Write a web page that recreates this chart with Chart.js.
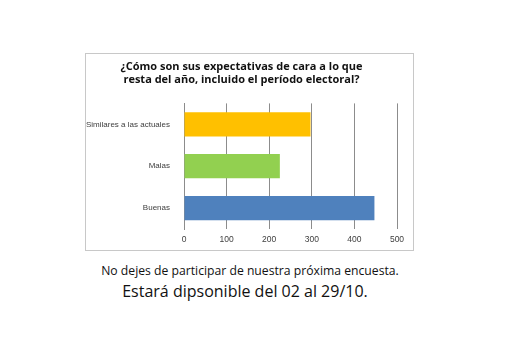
<!DOCTYPE html>
<html>
<head>
<meta charset="utf-8">
<script src="https://cdn.jsdelivr.net/npm/chart.js@4.4.0/dist/chart.umd.min.js"></script>
<style>
    body { margin: 0; background: #fff; width: 530px; height: 363px; position: relative; overflow: hidden; }
    #box { position: absolute; left: 85px; top: 53px; width: 327px; height: 196px; border: 1px solid #c8c8c8; }
    .nota { position: absolute; left: 0; width: 500px; text-align: center; font-family: "Open Sans", sans-serif; color: #111; }
</style>
</head>
<body>
<div id="box"><canvas id="grafico"></canvas></div>
<div class="nota" style="top:262px; font-size:12.2px;">No dejes de participar de nuestra próxima encuesta.</div>
<div class="nota" style="top:280px; font-size:16px; left:-5px;">Estará dipsonible del 02 al 29/10.</div>
<script>
// datos de la encuesta
const categorias = ['Similares a las actuales', 'Malas', 'Buenas'];
const respuestas = [297, 225, 447];
const colores = ['#FFC000', '#92D050', '#4F81BD'];
const ticksX = [0, 100, 200, 300, 400, 500];

const ctx = document.getElementById('grafico');
ctx.width = 327; ctx.height = 196;

new Chart(ctx.getContext('2d'), {
    type: 'bar',
    data: {
        labels: categorias,
        datasets: [{
            data: respuestas,
            backgroundColor: colores,
            borderWidth: 0,
            categoryPercentage: 1,
            barPercentage: 0.58
        }]
    },
    options: {
        indexAxis: 'y',
        responsive: false,
        animation: false,
        layout: { padding: { right: 16, bottom: 0 } },
        plugins: {
            legend: { display: false },
            tooltip: { enabled: false },
            title: {
                display: true,
                text: ['¿Cómo son sus expectativas de cara a lo que', 'resta del año, incluido el período electoral?'],
                font: { family: 'Open Sans', size: 11, weight: 'bold' },
                color: '#111',
                lineHeight: 1.55,
                padding: { top: 6, bottom: 17 }
            }
        },
        scales: {
            x: {
                min: 0,
                max: 500,
                afterBuildTicks: (axis) => { axis.ticks = ticksX.map(v => ({ value: v })); },
                afterFit: (axis) => { axis.height = 21; },
                grid: { color: '#8c8c8c', drawTicks: false },
                border: { display: false },
                ticks: { color: '#404040', font: { family: 'Liberation Sans', size: 8.5 }, padding: 6 }
            },
            y: {
                afterFit: (axis) => { axis.width = 98; },
                grid: { display: false },
                border: { display: true, color: '#8c8c8c' },
                ticks: { color: '#404040', font: { family: 'Liberation Sans', size: 8 }, padding: 6 }
            }
        }
    }
});
</script>
</body>
</html>
